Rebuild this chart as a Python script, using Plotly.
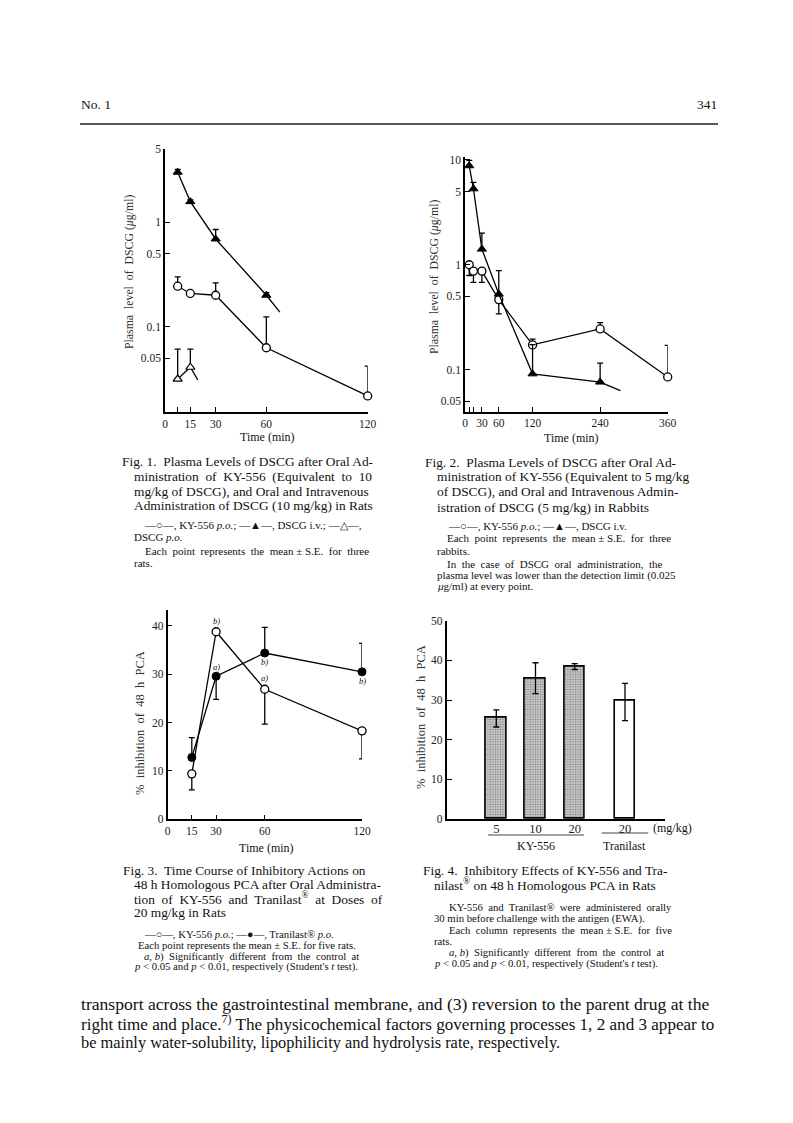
import plotly.graph_objects as go

W, H = 793, 1123
OFF = 8  # page body margin of the browser
def px(x): return (x - OFF) / W
def py(y): return 1 - (y - OFF) / H

SERIF = "Liberation Serif, Times New Roman, serif"

# ---------------- data ----------------
# Fig. 1 (rats, plasma DSCG, ug/ml)
f1_time = [7.5, 15, 30, 60, 120]
f1_ky = [0.244, 0.208, 0.200, 0.063, 0.0218]
f1_ky_hi = [0.300, 0.215, 0.263, 0.124, 0.042]
f1_iv_time = [7.5, 15, 30, 60]
f1_iv = [3.0, 1.57, 0.69, 0.200]
f1_iv_hi = [3.2, 1.63, 0.85, 0.212]
f1_iv_tail_time = [60, 68]
f1_iv_tail = [0.200, 0.138]
f1_po_time = [7.5, 15]
f1_po = [0.0316, 0.041]
f1_po_hi = [0.061, 0.061]
f1_po_tail_time = [15, 19.4]
f1_po_tail = [0.041, 0.031]
f1_xticks = [0, 7.5, 15, 30, 60, 120]
f1_xlabels = ["0", "", "15", "30", "60", "120"]
f1_yticks = [0.05, 0.1, 0.5, 1, 5]

# Fig. 2 (rabbits)
f2_time = [7.5, 15, 30, 60, 120, 240, 360]
f2_ky = [1.0, 0.87, 0.87, 0.465, 0.172, 0.244, 0.085]
f2_ky_hi = [None, None, None, None, 0.195, 0.28, 0.17]
f2_ky_lo = [0.79, 0.68, 0.68, 0.34, None, None, None]
f2_iv_time = [7.5, 15, 30, 60, 120, 240]
f2_iv = [8.8, 5.3, 1.41, 0.525, 0.091, 0.076]
f2_iv_hi = [9.9, 6.1, 2.0, 0.88, 0.173, 0.115]
f2_iv_tail_time = [240, 276]
f2_iv_tail = [0.076, 0.063]
f2_xticks = [0, 7.5, 15, 30, 60, 120, 240, 360]
f2_xlabels = ["0", "", "", "30", "60", "120", "240", "360"]
f2_yticks = [0.05, 0.1, 0.5, 1, 5, 10]

# Fig. 3 (% inhibition of 48 h PCA)
f3_time = [15, 30, 60, 120]
f3_ky = [9.4, 38.8, 26.9, 18.3]
f3_ky_hi = [None, None, None, None]
f3_ky_lo = [6.1, None, 19.7, 12.5]
f3_ky_sig = ["", "b)", "a)", ""]
f3_tr = [12.8, 29.6, 34.4, 30.5]
f3_tr_hi = [16.9, None, 39.7, 36.4]
f3_tr_lo = [None, 24.8, None, None]
f3_tr_sig = ["", "a)", "b)", "b)"]
f3_xticks = [0, 15, 30, 60, 120]
f3_yticks = [0, 10, 20, 30, 40]

# Fig. 4 (bars)
f4_ky_dose = ["5", "10", "20"]
f4_ky = [25.5, 35.4, 38.5]
f4_ky_hi = [27.5, 39.4, 39.2]
f4_ky_lo = [23.2, 31.6, 37.7]
f4_ky_sig = ["a)", "b)", "b)"]
f4_tr_dose = ["20"]
f4_tr = [29.8]
f4_tr_hi = [34.2]
f4_tr_lo = [24.8]
f4_tr_sig = ["a)"]
f4_yticks = [0, 10, 20, 30, 40, 50]


def plus(mean, hi):
    return [(h - m) if h is not None else 0 for m, h in zip(mean, hi)]

def minus(mean, lo):
    return [(m - l) if l is not None else 0 for m, l in zip(mean, lo)]

def err(mean, hi=None, lo=None):
    hi = hi or [None] * len(mean)
    lo = lo or [None] * len(mean)
    return dict(type="data", symmetric=False, array=plus(mean, hi),
                arrayminus=minus(mean, lo), color="black", thickness=1.3, width=3)

LINE = dict(color="black", width=1.3)
open_circle = dict(symbol="circle", size=8, color="white", line=dict(color="black", width=1.3))
fill_circle = dict(symbol="circle", size=8, color="black", line=dict(color="black", width=1))
fill_tri = dict(symbol="triangle-up", size=8, color="black", line=dict(color="black", width=1))
open_tri = dict(symbol="triangle-up", size=8, color="white", line=dict(color="black", width=1.2))

fig = go.Figure()

def add(x, y, xa, ya, marker=None, error=None, mode="lines+markers"):
    fig.add_trace(go.Scatter(x=x, y=y, xaxis=xa, yaxis=ya, mode=mode, line=LINE,
                             marker=marker, error_y=error, cliponaxis=False,
                             showlegend=False, hoverinfo="skip"))

# Fig 1
add(f1_iv_tail_time, f1_iv_tail, "x", "y", mode="lines")
add(f1_po_tail_time, f1_po_tail, "x", "y", mode="lines")
add(f1_time, f1_ky, "x", "y", open_circle, err(f1_ky, f1_ky_hi))
add(f1_iv_time, f1_iv, "x", "y", fill_tri, err(f1_iv, f1_iv_hi))
add(f1_po_time, f1_po, "x", "y", open_tri, err(f1_po, f1_po_hi))

# Fig 2
add(f2_iv_tail_time, f2_iv_tail, "x2", "y2", mode="lines")
add(f2_time, f2_ky, "x2", "y2", open_circle, err(f2_ky, f2_ky_hi, f2_ky_lo))
add(f2_iv_time, f2_iv, "x2", "y2", fill_tri, err(f2_iv, f2_iv_hi))

# Fig 3
add(f3_time, f3_ky, "x3", "y3", open_circle, err(f3_ky, f3_ky_hi, f3_ky_lo))
add(f3_time, f3_tr, "x3", "y3", fill_circle, err(f3_tr, f3_tr_hi, f3_tr_lo))

# Fig 4
bar_line = dict(color="black", width=1.6)
fig.add_trace(go.Bar(x=f4_ky_dose, y=f4_ky, xaxis="x4", yaxis="y4", width=0.53,
                     marker=dict(color="#c4c4c4", line=bar_line,
                                 pattern=dict(shape=".", fgcolor="#3c3c3c", bgcolor="#cfcfcf",
                                              size=2.5, solidity=0.4)),
                     error_y=err(f4_ky, f4_ky_hi, f4_ky_lo), showlegend=False, hoverinfo="skip"))
fig.add_trace(go.Bar(x=f4_tr_dose, y=f4_tr, xaxis="x5", yaxis="y4", width=0.53,
                     marker=dict(color="white", line=bar_line),
                     error_y=err(f4_tr, f4_tr_hi, f4_tr_lo), showlegend=False, hoverinfo="skip"))

TICKFONT = dict(family=SERIF, size=11.5, color="#222")
base = dict(showline=True, linecolor="black", linewidth=1.6, showgrid=False, zeroline=False,
            ticks="inside", ticklen=5, tickwidth=1.3, tickcolor="black", tickfont=TICKFONT,
            fixedrange=True, automargin=False)
cat_font = dict(family=SERIF, size=12.5, color="#222")

fig.update_layout(
    width=W, height=H, margin=dict(l=0, r=0, t=0, b=0, pad=0, autoexpand=False),
    paper_bgcolor="white", plot_bgcolor="rgba(0,0,0,0)", showlegend=False,
    bargap=0,
    xaxis=dict(base, domain=[px(165), px(367.7)], range=[0, 120], anchor="y",
               tickvals=f1_xticks, ticktext=f1_xlabels),
    yaxis=dict(base, domain=[py(412), py(149)], type="log", range=[-1.815, 0.699], anchor="x",
               tickvals=f1_yticks, ticktext=[str(v) for v in f1_yticks]),
    xaxis2=dict(base, domain=[px(465), px(667.7)], range=[0, 360], anchor="y2",
                tickvals=f2_xticks, ticktext=f2_xlabels),
    yaxis2=dict(base, domain=[py(411.7), py(157)], type="log", range=[-1.402, 1.028], anchor="x2",
                tickvals=f2_yticks, ticktext=[str(v) for v in f2_yticks]),
    xaxis3=dict(base, domain=[px(167.5), px(362)], range=[0, 120], anchor="y3",
                tickvals=f3_xticks, ticktext=[str(v) for v in f3_xticks]),
    yaxis3=dict(base, domain=[py(819.3), py(610)], range=[0, 43.3], anchor="x3",
                tickvals=f3_yticks, ticktext=[str(v) for v in f3_yticks]),
    xaxis4=dict(base, domain=[px(446.7), px(600)], type="category", range=[-1.265, 2.645],
                anchor="y4", ticks="", tickfont=cat_font, ticklabelstandoff=-3),
    xaxis5=dict(base, domain=[px(600), px(665)], type="category", range=[-0.638, 1.02],
                anchor="y4", ticks="", tickfont=cat_font, ticklabelstandoff=-3),
    yaxis4=dict(base, domain=[py(819), py(620.7)], range=[0, 50], anchor="x4",
                tickvals=f4_yticks, ticktext=[str(v) for v in f4_yticks]),
)

ann = []
def text(x, y, s, size=12.5, xanchor="left", angle=0, color="#111", yanchor="middle"):
    ann.append(dict(x=px(x), y=py(y), xref="paper", yref="paper", text=s, showarrow=False,
                    xanchor=xanchor, yanchor=yanchor, textangle=angle, borderpad=0,
                    font=dict(family=SERIF, size=size, color=color)))

# significance labels (data coords)
def sig(xs, ys, labels, xa, ya, shifts):
    for x, y, lab, s in zip(xs, ys, labels, shifts):
        if lab:
            ann.append(dict(x=x, y=y, xref=xa, yref=ya, text="<i>%s</i>" % lab, showarrow=False,
                            yshift=s, xanchor="center", yanchor="middle", borderpad=0,
                            font=dict(family=SERIF, size=8.5, color="#111")))

sig(f3_time, f3_ky, f3_ky_sig, "x3", "y3", [11 if h is None else -10 for h in f3_ky_hi])
sig(f3_time, f3_tr, f3_tr_sig, "x3", "y3", [9 if h is None else -9 for h in f3_tr_hi])
sig(f4_ky_dose, f4_ky_hi, f4_ky_sig, "x4", "y4", [6, 6, 6])
sig(f4_tr_dose, f4_tr_hi, f4_tr_sig, "x5", "y4", [6])

# axis titles
text(129, 272, "Plasma  level  of  DSCG (<i>μ</i>g/ml)", 11.8, "center", -90, "#333")
text(434, 277, "Plasma  level  of  DSCG (<i>μ</i>g/ml)", 11.8, "center", -90, "#333")
text(140, 723, "%  inhibition  of  48  h  PCA", 12.5, "center", -90, "#333")
text(421, 717, "%  inhibition  of  48  h  PCA", 12.5, "center", -90, "#333")
text(267, 437, "Time (min)", 12, "center")
text(571, 438, "Time (min)", 12, "center")
text(266, 848, "Time (min)", 12, "center")
text(672, 828, "(mg/kg)", 12, "center")
text(536, 846, "KY-556", 12, "center")
text(624, 846, "Tranilast", 12, "center")

# header
text(80, 105, "No. 1", 13.5)
text(718, 105, "341", 13.5, "right")

# captions
C, N, N2 = 13.4, 11.0, 10.7
text(120.7, 461.7, "Fig. 1.  Plasma Levels of DSCG after Oral Ad-", C)
text(132.7, 476.7, "ministration  of  KY-556  (Equivalent  to  10", C)
text(132.7, 491, "mg/kg of DSCG), and Oral and Intravenous", C)
text(132.7, 506, "Administration of DSCG (10 mg/kg) in Rats", C)
text(143.3, 525, "—○—, KY-556 <i>p.o.</i>; —▲—, DSCG i.v.; —△—,", N)
text(133, 537.3, "DSCG <i>p.o.</i>", N)
text(144, 550.7, "Each  point  represents  the  mean ± S.E.  for  three", N)
text(133, 563.3, "rats.", N)

text(424, 462.3, "Fig. 2.  Plasma Levels of DSCG after Oral Ad-", C)
text(435.7, 476.7, "ministration of KY-556 (Equivalent to 5 mg/kg", C)
text(435.7, 491.3, "of DSCG), and Oral and Intravenous Admin-", C)
text(435.7, 507, "istration of DSCG (5 mg/kg) in Rabbits", C)
text(446.7, 526, "—○—, KY-556 <i>p.o.</i>; —▲—, DSCG i.v.", N)
text(446, 538.3, "Each  point  represents  the  mean ± S.E.  for  three", N)
text(435.7, 551, "rabbits.", N)
text(446, 564, "In  the  case  of  DSCG  oral  administration,  the", N)
text(435.7, 575.7, "plasma level was lower than the detection limit (0.025", N)
text(435.7, 586.7, "<i>μ</i>g/ml) at every point.", N)

text(121.7, 870, "Fig. 3.  Time Course of Inhibitory Actions on", C)
text(133.3, 884.3, "48 h Homologous PCA after Oral Administra-", C)
text(133.3, 898.3, "tion  of  KY-556  and  Tranilast<sup>®</sup>  at  Doses  of", C)
text(133.3, 912.3, "20 mg/kg in Rats", C)
text(143, 933.5, "—○—, KY-556 <i>p.o.</i>; —●—, Tranilast® <i>p.o.</i>", N2)
text(136.7, 945, "Each point represents the mean ± S.E. for five rats.", N2)
text(143, 956, "<i>a, b</i>)  Significantly  different  from  the  control  at", N2)
text(133, 966.7, "<i>p</i> < 0.05 and <i>p</i> < 0.01, respectively (Student's <i>t</i> test).", N2)

text(421.7, 870, "Fig. 4.  Inhibitory Effects of KY-556 and Tra-", C)
text(433, 884.3, "nilast<sup>®</sup> on 48 h Homologous PCA in Rats", C)
text(448, 907.3, "KY-556  and  Tranilast®  were  administered  orally", N2)
text(433, 918.5, "30 min before challenge with the antigen (EWA).", N2)
text(448, 929.5, "Each  column  represents  the  mean ± S.E.  for  five", N2)
text(433, 940.5, "rats.", N2)
text(448, 952.3, "<i>a, b</i>)  Significantly  different  from  the  control  at", N2)
text(433, 963, "<i>p</i> < 0.05 and <i>p</i> < 0.01, respectively (Student's <i>t</i> test).", N2)

# body text
text(80, 1004, "transport across the gastrointestinal membrane, and (3) reversion to the parent drug at the", 17.6)
text(80, 1023, "right time and place.<sup>7)</sup> The physicochemical factors governing processes 1, 2 and 3 appear to", 17.1)
text(80, 1042, "be mainly water-solubility, lipophilicity and hydrolysis rate, respectively.", 16.4)

shapes = [
    dict(type="line", xref="paper", yref="paper", x0=px(80), x1=px(718), y0=py(124), y1=py(124),
         line=dict(color="#222", width=1.6)),
    dict(type="line", xref="paper", yref="paper", x0=px(488), x1=px(584), y0=py(835), y1=py(835),
         line=dict(color="#444", width=1)),
    dict(type="line", xref="paper", yref="paper", x0=px(601.7), x1=px(648.3), y0=py(833), y1=py(833),
         line=dict(color="#444", width=1)),
]

fig.update_layout(annotations=ann, shapes=shapes)
fig.write_html("out.html")
